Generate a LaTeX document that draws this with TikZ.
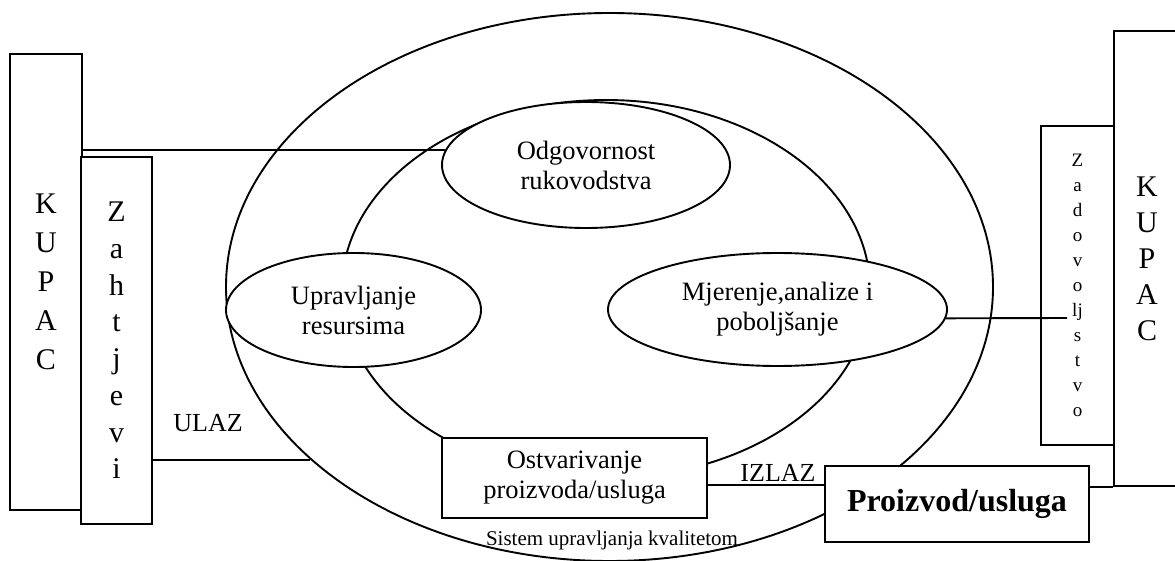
\documentclass[tikz,border=0pt]{standalone}
\usepackage{fontspec}
\setmainfont{Liberation Serif}
\usetikzlibrary{shapes.geometric}
\tikzset{
  qm/box/.style={
    draw, fill=white, line width=1.9pt, inner sep=0pt, align=center
  },
  qm/ell/.style={
    ellipse, draw, fill=white, line width=1.9pt, inner sep=0pt, align=center
  },
  qm/ring/.style={ellipse, draw, line width=1.9pt, inner sep=0pt},
  qm/line/.style={line width=1.9pt}
}
\newcommand{\qmtext}{\fontsize{26.5}{30}\selectfont}

\begin{document}
\begin{tikzpicture}[x=1pt, y=-1pt, font=\qmtext]
  \useasboundingbox (0,0) rectangle (1175,561);
  % sistem i procesi
  \node[qm/ring, minimum width=767pt, minimum height=548pt] (sys) at (609.5,287) {};
  \node[qm/ring, minimum width=528pt, minimum height=378pt] (krug) at (606,289) {};
  \node[qm/ell, minimum width=288pt, minimum height=126pt] (odg) at (586,165)
    {Odgovornost\\rukovodstva};
  \node[qm/ell, minimum width=255pt, minimum height=114pt] (upr) at (353.5,310)
    {Upravljanje\\resursima};
  \node[qm/ell, minimum width=339pt, minimum height=113pt] (mj) at (777.5,309.5)
    {Mjerenje,analize i\\poboljšanje};
  \node[qm/box, minimum width=265pt, minimum height=80pt] (ostv) at (574.5,478)
    {Ostvarivanje\\proizvoda/usluga};
  \node[qm/box, minimum width=264pt, minimum height=76pt, font=\fontsize{32}{36}\selectfont\bfseries] (prz)
    at (957,504) {Proizvod/usluga};

  % kupac lijevo i desno
  \node[qm/box, minimum width=72pt, minimum height=456pt, font=\fontsize{30}{39}\selectfont] (kupL)
    at (46,282) {K\\U\\P\\A\\C};
  \node[qm/box, minimum width=71pt, minimum height=367pt, font=\fontsize{30}{36.7}\selectfont] (zah)
    at (116.5,340.5) {Z\\a\\h\\t\\j\\e\\v\\i};
  \node[qm/box, minimum width=66pt, minimum height=455pt, font=\fontsize{30}{36}\selectfont] (kupR)
    at (1147,258.5) {K\\U\\P\\A\\C};
  \node[qm/box, minimum width=73pt, minimum height=319pt, font=\fontsize{19}{25}\selectfont] (zad)
    at (1077.5,285.5) {Z\\a\\d\\o\\v\\o\\lj\\s\\t\\v\\o};

  \node[font=\fontsize{26}{30}\selectfont] (ulaz) at (208,423) {ULAZ};
  \node[font=\fontsize{26}{30}\selectfont] (izlaz) at (778,473) {IZLAZ};
  \node[font=\fontsize{21}{25}\selectfont] (sysname) at (612,540) {Sistem upravljanja kvalitetom};

  \coordinate (zadEnd) at (1067,318);

  \draw[qm/line] (odg.174) -- (odg.174 -| kupL.east);
  \draw[qm/line] (sys.210.5) -- (sys.210.5 -| zah.east);
  \draw[qm/line] ([yshift=-7pt]ostv.east) -- ([yshift=-7pt]ostv.east -| prz.west);
  \draw[qm/line] (prz.east |- kupR.south) -- (kupR.south west);
  \draw[qm/line] (mj.-3) -- (zadEnd);
\end{tikzpicture}
\end{document}
